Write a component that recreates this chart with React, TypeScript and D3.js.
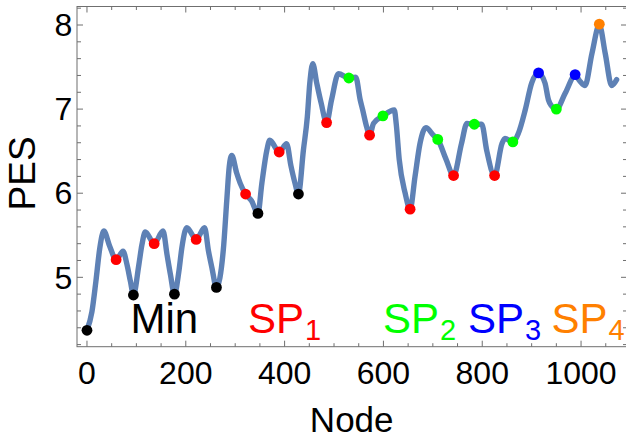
import React from "react";
import * as d3 from "d3";

// ---- data ----
const curveNodes = [
  0, 10, 18, 26, 34, 46, 59, 73, 81, 88, 94, 105, 111, 118, 136, 154, 162, 169, 177, 186, 192, 202,
  221, 238, 246, 253, 262, 276, 283, 288, 293, 303, 310, 321, 333, 346, 354, 364, 370, 389, 404,
  413, 421, 428, 438, 446, 451, 457, 465, 474, 485, 495, 509, 530, 544, 553, 558, 566, 572, 580,
  599, 622, 626, 632, 644, 654, 664, 674, 686, 701, 710, 727, 742, 758, 769, 784, 799, 809, 825,
  840, 846, 862, 873, 887, 900, 914, 927, 934, 940, 950, 968, 988, 998, 1008, 1022, 1037, 1049,
  1062, 1072,
];
const curvePES = [
  4.37, 4.59, 4.95, 5.35, 5.55, 5.37, 5.21, 5.31, 5.15, 4.95, 4.79, 5.15, 5.38, 5.54, 5.4, 5.55,
  5.27, 5.03, 4.8, 5.07, 5.35, 5.59, 5.45, 5.59, 5.31, 5.11, 4.88, 5.33, 5.92, 6.32, 6.45, 6.24,
  6.12, 5.99, 5.91, 5.76, 6.12, 6.51, 6.63, 6.49, 6.59, 6.32, 6.12, 5.99, 6.51, 6.91, 7.31, 7.54,
  7.31, 7.07, 6.84, 7.11, 7.42, 7.37, 7.38, 7.11, 6.99, 6.79, 6.69, 6.83, 6.92, 6.99, 6.82, 6.4,
  6.0, 5.81, 6.2, 6.59, 6.78, 6.69, 6.64, 6.4, 6.21, 6.59, 6.83, 6.82, 6.82, 6.51, 6.21, 6.59,
  6.65, 6.61, 6.71, 6.99, 7.31, 7.43, 7.31, 7.11, 7.04, 7.0, 7.19, 7.4, 7.33, 7.28, 7.66, 8.0,
  7.66, 7.28, 7.35,
];

const minNodes = [0, 94, 177, 262, 346, 428];
const minPES = [4.37, 4.79, 4.8, 4.88, 5.76, 5.99];
const sp1Nodes = [59, 136, 221, 321, 389, 485, 572, 654, 742, 825];
const sp1PES = [5.21, 5.4, 5.45, 5.99, 6.49, 6.84, 6.69, 5.81, 6.21, 6.21];
const sp2Nodes = [530, 599, 710, 784, 862, 950];
const sp2PES = [7.37, 6.92, 6.64, 6.82, 6.61, 7.0];
const sp3Nodes = [914, 988];
const sp3PES = [7.43, 7.41];
const sp4Nodes = [1037];
const sp4PES = [8.01];

const xTickValues = [0, 200, 400, 600, 800, 1000];
const yTickValues = [5, 6, 7, 8];
const labelNames = ["Min", "SP", "SP", "SP", "SP"];
const labelSubs = ["", "1", "2", "3", "4"];
const labelColors = ["#000000", "#ff0000", "#00ff00", "#0000ff", "#ff8000"];
const labelX = [130.5, 248, 383, 468, 551.5];

const W = 626;
const H = 436;
const FONT = "'Liberation Sans', Arial, Helvetica, sans-serif";
const FRAME = "#6f6f6f";
const CURVE = "#5e81b5";

export default function App() {
  const left = 77, right = 627, top = 6.5, bottom = 346.7;
  const x = d3.scaleLinear().domain([-20.2, 1093]).range([left, right]);
  const y = d3.scaleLinear().domain([4.175, 8.22]).range([bottom, top]);

  const pts: [number, number][] = curveNodes.map((n, i) => [n, curvePES[i]]);
  const line = d3
    .line<[number, number]>()
    .x((d) => x(d[0]))
    .y((d) => y(d[1]))
    .curve(d3.curveMonotoneX);

  const xMinor = d3.range(0, 1051, 50);
  const yMinor = d3.range(42, 83, 2).map((v) => v / 10);

  const markerSets = [
    { nodes: minNodes, pes: minPES, color: labelColors[0] },
    { nodes: sp1Nodes, pes: sp1PES, color: labelColors[1] },
    { nodes: sp2Nodes, pes: sp2PES, color: labelColors[2] },
    { nodes: sp3Nodes, pes: sp3PES, color: labelColors[3] },
    { nodes: sp4Nodes, pes: sp4PES, color: labelColors[4] },
  ];

  return (
    <svg
      width={W}
      height={H}
      style={{ position: "absolute", left: 0, top: 0, background: "#fff" }}
      fontFamily={FONT}
    >
      {/* curve */}
      <path
        d={line(pts) || ""}
        fill="none"
        stroke={CURVE}
        strokeWidth={5.4}
        strokeLinejoin="round"
        strokeLinecap="round"
      />
      {/* markers */}
      {markerSets.map((s, k) =>
        s.nodes.map((n, i) => (
          <circle key={`m${k}-${i}`} cx={x(n)} cy={y(s.pes[i])} r={5.4} fill={s.color} />
        ))
      )}

      {/* frame */}
      <rect x={left} y={top} width={right - left} height={bottom - top} fill="none" stroke={FRAME} strokeWidth={1} />

      {/* x ticks bottom & top */}
      {xMinor.map((v) => {
        const major = v % 200 === 0;
        const len = major ? 6 : 3.5;
        return (
          <g key={`xt${v}`} stroke={FRAME} strokeWidth={1}>
            <line x1={x(v)} x2={x(v)} y1={bottom} y2={bottom - len} />
            <line x1={x(v)} x2={x(v)} y1={top} y2={top + len} />
          </g>
        );
      })}
      {/* y ticks left & right */}
      {yMinor.map((v) => {
        const major = Math.abs(v - Math.round(v)) < 1e-6;
        const len = major ? 6 : 4;
        return (
          <g key={`yt${v}`} stroke={FRAME} strokeWidth={1}>
            <line x1={left} x2={left + len} y1={y(v)} y2={y(v)} />
            <line x1={right} x2={right - len} y1={y(v)} y2={y(v)} />
          </g>
        );
      })}

      {/* tick labels */}
      {xTickValues.map((v) => (
        <text key={`xl${v}`} x={x(v)} y={384} textAnchor="middle" fontSize={32} fill="#000">
          {v}
        </text>
      ))}
      {yTickValues.map((v) => (
        <text key={`yl${v}`} x={72.3} y={y(v)} dy="0.35em" textAnchor="end" fontSize={32} fill="#000">
          {v}
        </text>
      ))}

      {/* axis labels */}
      <text x={351.7} y={431.7} textAnchor="middle" fontSize={35} fill="#000">
        Node
      </text>
      <text transform="translate(35,173.4) rotate(-90)" textAnchor="middle" fontSize={37} fill="#000">
        PES
      </text>

      {/* in-plot labels */}
      {labelNames.map((t, i) => (
        <text key={`lab${i}`} x={labelX[i]} y={333} fontSize={42} fill={labelColors[i]}>
          {t}
          {labelSubs[i] && (
            <tspan fontSize={29} dx={1} dy={7}>
              {labelSubs[i]}
            </tspan>
          )}
        </text>
      ))}
    </svg>
  );
}
